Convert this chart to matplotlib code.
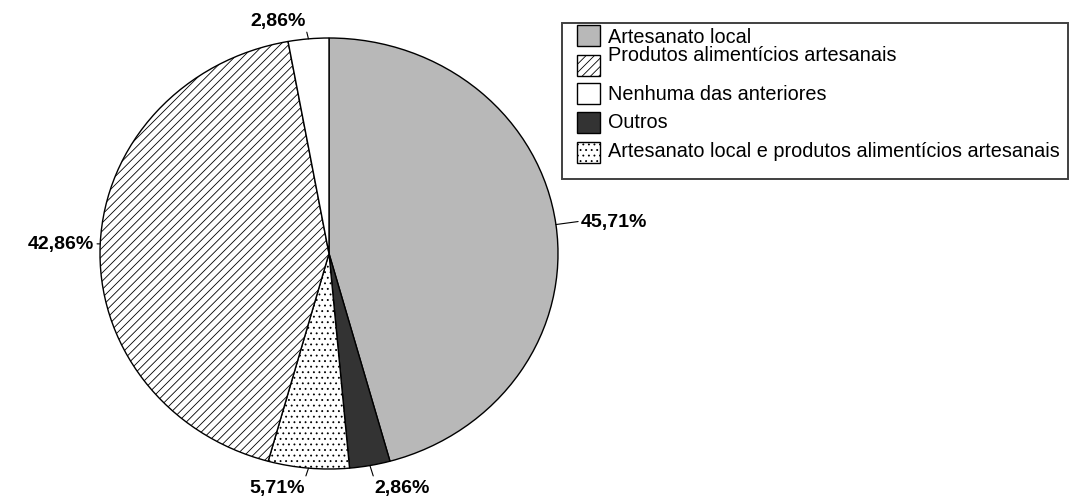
import matplotlib.pyplot as plt
from matplotlib.patches import Rectangle
import math

plt.rcParams['font.family'] = ['Liberation Sans', 'DejaVu Sans']
plt.rcParams['hatch.linewidth'] = 0.6

W, H = 1070, 502

# answers, in clockwise order starting at 12 o'clock
categorias = ["Artesanato local",
              "Outros",
              "Artesanato local e produtos alimentícios artesanais",
              "Produtos alimentícios artesanais",
              "Nenhuma das anteriores"]
percentuais = [45.71, 2.86, 5.71, 42.86, 2.86]
ordem_legenda = [0, 3, 4, 1, 2]

# fill style per slice
cores = ['#b8b8b8', '#333333', 'white', 'white', 'white']
hachuras = ['', '', '...', '////', '']


def fx(px):
    return px / W


def fy(py):
    return 1 - py / H


fig = plt.figure(figsize=(W / 100, H / 100), dpi=100)
ax = fig.add_axes([fx(100), fy(470), (558 - 100) / W, (470 - 39) / H])
wedges, _ = ax.pie(percentuais, startangle=90, counterclock=False,
                   colors=cores, hatch=hachuras,
                   wedgeprops=dict(edgecolor='black', linewidth=1.0))
ax.set_aspect('auto')
ax.set_xlim(-1, 1)
ax.set_ylim(-1, 1)

# where each value label sits (data coords), alignment and leader anchor
pos_rotulo = [(1.10, 0.15, 'left', 'center', (0, 0.5)),
              (0.197, -1.045, 'left', 'top', (0, 1)),
              (-0.105, -1.045, 'right', 'top', (1, 1)),
              (-1.025, 0.045, 'right', 'center', (1, 0.5)),
              (-0.10, 1.04, 'right', 'bottom', (1, 0))]

for w, v, (tx, ty, ha, va, rp) in zip(wedges, percentuais, pos_rotulo):
    ang = math.radians((w.theta1 + w.theta2) / 2)
    borda = (math.cos(ang), math.sin(ang))
    txt = f"{v:.2f}%".replace('.', ',')
    ax.annotate(txt, xy=borda, xytext=(tx, ty), ha=ha, va=va,
                fontsize=14, fontweight='bold', annotation_clip=False,
                arrowprops=dict(arrowstyle='-', color='black', lw=0.8,
                                relpos=rp, shrinkA=0, shrinkB=0))

# legend box drawn by hand to keep the spreadsheet layout
fig.add_artist(Rectangle((fx(562), fy(180)), (1068 - 562) / W, (180 - 24) / H,
                         transform=fig.transFigure, facecolor='white',
                         edgecolor='#404040', linewidth=1.4))
caixas_y = [26, 56, 84, 113, 143]
textos_y = [43, 61, 100, 128, 157]
for k, i in enumerate(ordem_legenda):
    fig.add_artist(Rectangle((fx(577), fy(caixas_y[k] + 21)), 23 / W, 21 / H,
                             transform=fig.transFigure, facecolor=cores[i],
                             hatch=hachuras[i], edgecolor='black', linewidth=1.0))
    fig.text(fx(608), fy(textos_y[k]), categorias[i], fontsize=14.3,
             ha='left', va='baseline')

fig.savefig('out.png', dpi=100)
